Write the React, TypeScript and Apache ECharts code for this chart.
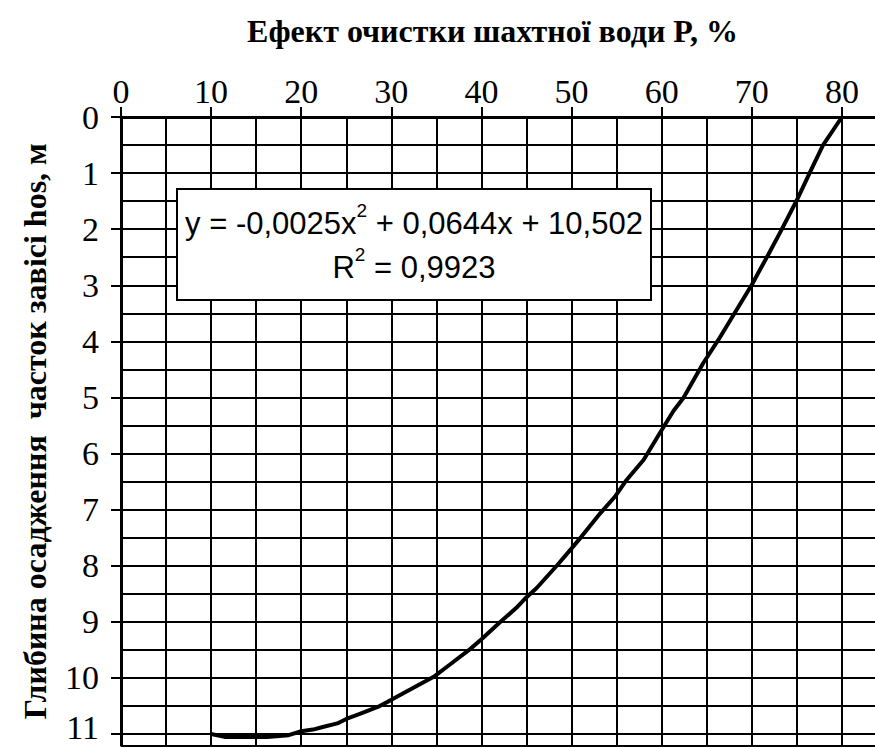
import React, { useEffect, useRef } from "react";
import * as echarts from "echarts";

// Treatment effect P, % (horizontal axis)
const effectP = [
  10, 11.5, 13, 14.5, 16.2, 18.6, 20, 21.3, 22.5, 24,
  25, 26.5, 28.7, 30, 32.4, 34.7, 36.5, 38.7, 40, 41.9,
  44, 45, 46.1, 48.4, 50, 51.1, 53.2, 54.8, 56.1, 58,
  60, 61.3, 62.4, 64.6, 66.3, 68.3, 70, 71.8, 73.1, 75,
  76.5, 77.9, 80,
];
// Settling depth of suspended particles hos, m (vertical axis, downwards)
const depthH = [
  11.0, 11.05, 11.05, 11.05, 11.05, 11.02, 10.95, 10.92, 10.87, 10.81,
  10.73, 10.64, 10.5, 10.39, 10.18, 9.98, 9.76, 9.49, 9.31, 9.03,
  8.73, 8.56, 8.4, 7.99, 7.69, 7.48, 7.06, 6.77, 6.47, 6.11,
  5.58, 5.24, 5.01, 4.39, 3.97, 3.44, 2.99, 2.46, 2.07, 1.48,
  0.97, 0.5, 0.0,
];

const xTickValues = [0, 10, 20, 30, 40, 50, 60, 70, 80];
const yTickValues = [0, 1, 2, 3, 4, 5, 6, 7, 8, 9, 10, 11];

const xTitle = "Ефект очистки шахтної води P, %";
const yTitle = "Глибина осадження  часток завісі hos, м";
const trendText = "y = -0,0025x{sup|2} + 0,0644x + 10,502\nR{sup|2} = 0,9923";

const SERIF = "'Liberation Serif', 'Times New Roman', serif";
const SANS = "'Liberation Sans', Arial, sans-serif";

const X_MAX = 84;
const Y_MAX = 11.2;

const gridLine = { show: true, lineStyle: { color: "#000", width: 2 } };
const axisLineStyle = { show: true, onZero: false, lineStyle: { color: "#000", width: 3 } };
const titleStyle = { fontFamily: SERIF, fontWeight: "bold", fontSize: 32, color: "#000" };
const tickLabelStyle = { fontFamily: SERIF, fontSize: 34, lineHeight: 24, color: "#000" };

export default function App() {
  const ref = useRef<HTMLDivElement>(null);

  useEffect(() => {
    if (!ref.current) return;
    const chart = echarts.init(ref.current, null, { renderer: "svg" });

    const lastY = yTickValues[yTickValues.length - 1];

    const option = {
      animation: false,
      backgroundColor: "#ffffff",
      grid: {
        left: 121,
        top: 117,
        width: 757,
        height: 628.3,
        containLabel: false,
        outerBoundsMode: "none",
      },
      xAxis: [
        // fine grid every 5 %
        {
          type: "value",
          position: "top",
          min: 0,
          max: X_MAX,
          interval: 5,
          axisLine: { show: false },
          axisTick: { show: false },
          axisLabel: { show: false },
          splitLine: gridLine,
        },
        // ticks, labels and title every 10 %
        {
          type: "value",
          position: "top",
          min: 0,
          max: X_MAX,
          interval: 10,
          name: xTitle,
          nameLocation: "middle",
          nameGap: 70,
          nameTextStyle: { ...titleStyle, padding: [0, 14, 0, 0] },
          axisLine: axisLineStyle,
          axisTick: {
            show: true,
            inside: false,
            length: 10,
            customValues: xTickValues,
            lineStyle: { color: "#000", width: 2 },
          },
          axisLabel: { ...tickLabelStyle, customValues: xTickValues, margin: 14 },
          splitLine: { show: false },
        },
      ],
      yAxis: [
        // fine grid every 0.5 m
        {
          type: "value",
          inverse: true,
          min: 0,
          max: Y_MAX,
          interval: 0.5,
          axisLine: { show: false },
          axisTick: { show: false },
          axisLabel: { show: false },
          splitLine: gridLine,
        },
        // ticks, labels and title every 1 m
        {
          type: "value",
          position: "left",
          inverse: true,
          min: 0,
          max: Y_MAX,
          interval: 1,
          name: yTitle,
          nameLocation: "middle",
          nameRotate: 90,
          nameGap: 70,
          nameTextStyle: titleStyle,
          axisLine: axisLineStyle,
          axisTick: {
            show: true,
            inside: false,
            length: 10,
            customValues: yTickValues,
            lineStyle: { color: "#000", width: 2 },
          },
          axisLabel: {
            ...tickLabelStyle,
            customValues: yTickValues,
            margin: 22,
            // the bottom label sits at the lower edge; lift it a little so it stays inside
            formatter: (v: number) => (v === lastY ? `{edge|${v}}` : `${v}`),
            rich: {
              edge: {
                fontFamily: SERIF,
                fontSize: 34,
                lineHeight: 24,
                color: "#000",
                padding: [0, 0, 14, 0],
              },
            },
          },
          splitLine: { show: false },
        },
      ],
      series: [
        {
          type: "line",
          xAxisIndex: 0,
          yAxisIndex: 0,
          data: effectP.map((p, i) => [p, depthH[i]]),
          showSymbol: false,
          symbol: "none",
          lineStyle: { color: "#000", width: 4 },
          z: 5,
        },
      ],
      graphic: [
        {
          type: "rect",
          z: 100,
          shape: { x: 177, y: 189, width: 474, height: 111 },
          style: { fill: "#fff", stroke: "#000", lineWidth: 2 },
        },
        {
          type: "text",
          z: 101,
          x: 414,
          y: 245,
          style: {
            text: trendText,
            fontFamily: SANS,
            fontSize: 31,
            lineHeight: 44,
            fill: "#000",
            align: "center",
            verticalAlign: "middle",
            rich: {
              sup: {
                fontFamily: SANS,
                fontSize: 19,
                lineHeight: 44,
                verticalAlign: "top",
                fill: "#000",
              },
            },
          },
        },
      ],
    };

    chart.setOption(option as any);
    return () => chart.dispose();
  }, []);

  return (
    <div
      ref={ref}
      style={{ position: "fixed", left: 0, top: 0, width: 875, height: 747, background: "#fff" }}
    />
  );
}
